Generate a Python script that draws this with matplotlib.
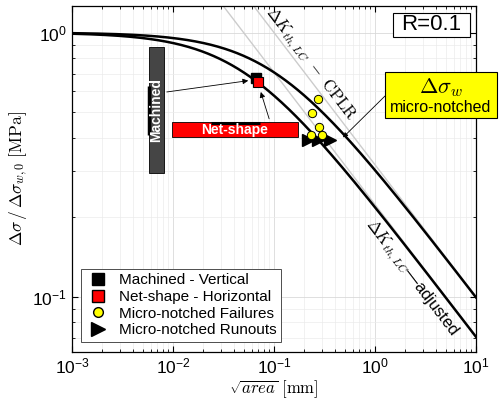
import numpy as np
import matplotlib
matplotlib.use("Agg")
import matplotlib.pyplot as plt
from matplotlib.patches import Rectangle
from matplotlib.lines import Line2D

plt.rcParams['font.family'] = ['Liberation Sans', 'DejaVu Sans']

# curve parameters (El Haddad a0 in mm)
a0_cplr = 0.1
a0_adj = 0.05

# data points
mach_x = [0.0664]
mach_y = [0.671]
net_x = [0.0695]
net_y = [0.648]
fail_x = [0.275, 0.236, 0.279, 0.231, 0.301]
fail_y = [0.562, 0.498, 0.439, 0.408, 0.408]
run_x = [0.217, 0.273, 0.358]
run_y = [0.391, 0.391, 0.391]

# scatter bands
mach_band_x = [0.00578, 0.00815]
mach_band_y = [0.293, 0.88]
mach_range_y = [0.408, 0.626]
net_band_x = [0.00977, 0.173]
net_band_y = [0.401, 0.457]
net_range_x = [0.0238, 0.0726]

fig = plt.figure(figsize=(5, 4.04), dpi=100)
ax = fig.add_axes([0.144, 0.1295, 0.808, 0.8555])

a = np.logspace(-3, 1, 400)
ax.plot(a, np.sqrt(a0_cplr / a), color='0.8', lw=1.0, zorder=2)
ax.plot(a, np.sqrt(a0_adj / a), color='0.8', lw=1.0, zorder=2)
ax.plot(a, np.sqrt(a0_cplr / (a + a0_cplr)), color='k', lw=1.8, zorder=4)
ax.plot(a, np.sqrt(a0_adj / (a + a0_adj)), color='k', lw=1.8, zorder=4)

# machined band
ax.add_patch(Rectangle((mach_band_x[0], mach_band_y[0]), mach_band_x[1] - mach_band_x[0],
                       mach_band_y[1] - mach_band_y[0], facecolor='#454545', edgecolor='k', lw=0.6, zorder=3))
ax.plot([mach_band_x[0] * 1.01] * 2, mach_range_y, color='k', lw=2.5, zorder=3, solid_capstyle='butt')
ax.text(np.sqrt(mach_band_x[0] * mach_band_x[1]), 0.508, 'Machined', rotation=90, color='white',
        fontweight='bold', fontsize=10, ha='center', va='center', zorder=5)

# net-shape band
ax.add_patch(Rectangle((net_band_x[0], net_band_y[0]), net_band_x[1] - net_band_x[0],
                       net_band_y[1] - net_band_y[0], facecolor='#ff0000', edgecolor='k', lw=0.6, zorder=3))
ax.plot(net_range_x, [net_band_y[1] * 0.995] * 2, color='k', lw=2.2, zorder=3, solid_capstyle='butt')
ax.text(0.0411, 0.4266, 'Net-shape', color='white', fontweight='bold', fontsize=10,
        ha='center', va='center', zorder=5)

# arrows to the mean points
ax.annotate('', xy=(0.0592, 0.66), xytext=(0.00815, 0.594),
            arrowprops=dict(arrowstyle='-|>', color='k', lw=0.6, mutation_scale=8), zorder=5)
ax.annotate('', xy=(0.0726, 0.61), xytext=(0.0912, 0.461),
            arrowprops=dict(arrowstyle='-|>', color='k', lw=0.6, mutation_scale=8), zorder=5)

ax.plot(mach_x, mach_y, 's', ms=7.5, mfc='k', mec='k', zorder=6)
ax.plot(net_x, net_y, 's', ms=7, mfc='#ff0000', mec='k', mew=0.8, zorder=6)
ax.plot(run_x, run_y, '>', ms=9, mfc='k', mec='k', zorder=6)
ax.plot(fail_x, fail_y, 'o', ms=6, mfc='#ffff00', mec='k', mew=0.7, zorder=7)

ax.text(0.227, 0.759, r'$\Delta K_{th,LC}\ -\ \mathrm{CPLR}$', rotation=-52.6, fontsize=12,
        math_fontfamily='cm', ha='center', va='center', rotation_mode='anchor')
ax.text(2.27, 0.118, r'$\Delta K_{th,LC}$—adjusted', rotation=-52.6, fontsize=12,
        math_fontfamily='cm', ha='center', va='center', rotation_mode='anchor')

ax.set_xscale('log')
ax.set_yscale('log')
ax.set_xlim(1e-3, 10)
ax.set_ylim(0.062, 1.26)
ax.grid(True, which='major', color='0.85', lw=0.6)
ax.grid(True, which='minor', color='0.92', lw=0.5)
ax.set_axisbelow(True)
ax.tick_params(which='both', direction='in', top=True, right=True, labelsize=12.5)
ax.tick_params(which='major', length=4)
ax.tick_params(which='minor', length=2.5)
for s in ax.spines.values():
    s.set_linewidth(0.9)

ax.set_xlabel(r'$\sqrt{area}\ [\mathrm{mm}]$', fontsize=12, math_fontfamily='cm', labelpad=1)
ax.set_ylabel(r'$\Delta\sigma\,/\,\Delta\sigma_{w,0}\ [\mathrm{MPa}]$', fontsize=12.5,
              math_fontfamily='cm', labelpad=2)

# R box
fig.patches.append(Rectangle((393 / 500, 1 - 37 / 404), 77 / 500, 24 / 404, transform=fig.transFigure,
                             facecolor='white', edgecolor='k', lw=0.8, zorder=10))
fig.text(431.5 / 500, 1 - 25 / 404, 'R=0.1', fontsize=16, ha='center', va='center', zorder=11)

# yellow annotation box
fig.patches.append(Rectangle((385 / 500, 1 - 118 / 404), 112 / 500, 46 / 404, transform=fig.transFigure,
                             facecolor='#ffff00', edgecolor='k', lw=0.8, zorder=10))
fig.text(441 / 500, 1 - 88 / 404, r'$\Delta\sigma_w$', fontsize=16, math_fontfamily='cm',
         ha='center', va='center', zorder=11)
fig.text(441 / 500, 1 - 107 / 404, 'micro-notched', fontsize=11.5, ha='center', va='center', zorder=11)
ax.annotate('', xy=(0.482, 0.401), xytext=(385 / 500, 1 - 96 / 404), textcoords='figure fraction',
            arrowprops=dict(arrowstyle='-|>', color='k', lw=0.6, mutation_scale=7,
                            shrinkA=0, shrinkB=0), zorder=8)

handles = [
    Line2D([], [], ls='none', marker='s', ms=8, mfc='k', mec='k'),
    Line2D([], [], ls='none', marker='s', ms=8, mfc='#ff0000', mec='k'),
    Line2D([], [], ls='none', marker='o', ms=7, mfc='#ffff00', mec='k'),
    Line2D([], [], ls='none', marker='>', ms=10, mfc='k', mec='k'),
]
labels = ['Machined - Vertical', 'Net-shape - Horizontal', 'Micro-notched Failures', 'Micro-notched Runouts']
leg = ax.legend(handles, labels, loc='lower left', bbox_to_anchor=(0.022, 0.028), borderaxespad=0,
                fontsize=11, fancybox=False, edgecolor='0.3', framealpha=1, handletextpad=0.6,
                labelspacing=0.18, borderpad=0.3, handlelength=1.6)
leg.get_frame().set_linewidth(0.7)
leg.set_zorder(9)

fig.savefig('out.png', dpi=100)
